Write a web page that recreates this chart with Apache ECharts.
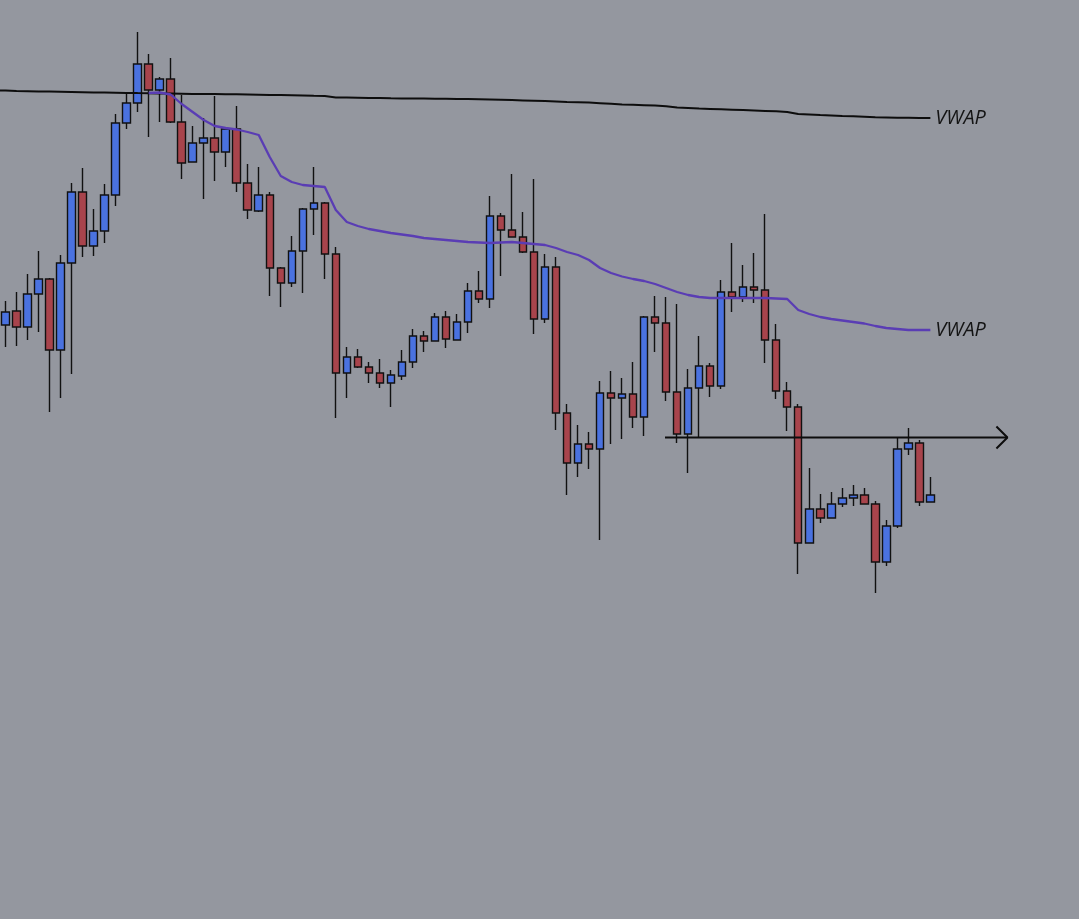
<!DOCTYPE html>
<html>
<head>
<meta charset="utf-8">
<title>VWAP</title>
<script src="https://cdn.jsdelivr.net/npm/echarts@6/dist/echarts.min.js"></script>
<style>
	html, body { margin: 0; padding: 0; background: #94979f; }
	#chart { width: 1079px; height: 919px; }
</style>
</head>
<body>
<div id="chart"></div>
<script>
	// candles (price scale: 1000 at top edge, 81 at bottom)
	var candleOpen = [675, 689, 673, 706, 721, 650, 737, 808, 754, 769,
		805, 877, 897, 936, 910, 921, 878, 838, 857, 862,
		848, 871, 817, 789, 805, 732, 717, 749, 791, 797,
		746, 627, 643, 633, 627, 617, 624, 638, 664, 659,
		683, 660, 678, 709, 701, 784, 770, 763, 748, 681,
		733, 587, 537, 556, 551, 607, 602, 606, 583, 683,
		677, 608, 566, 612, 634, 614, 708, 703, 713, 710,
		660, 609, 593, 457, 491, 482, 496, 502, 505, 496,
		438, 474, 551, 557, 498];
	var candleClose = [688, 673, 706, 721, 650, 737, 808, 754, 769, 805,
		877, 897, 936, 910, 921, 878, 837, 857, 862, 848,
		871, 817, 790, 805, 732, 717, 749, 791, 797, 746,
		627, 643, 633, 627, 617, 625, 638, 664, 659, 683,
		661, 678, 709, 701, 784, 770, 763, 748, 681, 733,
		587, 537, 556, 551, 607, 602, 606, 583, 683, 677,
		608, 566, 612, 634, 614, 708, 703, 713, 710, 660,
		609, 593, 457, 491, 482, 496, 502, 505, 496, 438,
		474, 551, 557, 498, 505];
	var candleLow = [653, 654, 660, 668, 588, 602, 626, 743, 744, 757,
		794, 871, 888, 863, 878, 877, 821, 838, 801, 819,
		833, 808, 781, 788, 704, 693, 713, 707, 765, 721,
		582, 602, 632, 617, 612, 593, 620, 632, 648, 659,
		652, 660, 667, 697, 692, 724, 763, 747, 666, 677,
		570, 505, 523, 531, 460, 556, 561, 572, 564, 648,
		599, 557, 527, 563, 603, 611, 688, 698, 697, 637,
		601, 569, 426, 457, 477, 482, 493, 494, 496, 407,
		434, 472, 545, 494, 498];
	var candleHigh = [699, 708, 726, 749, 722, 745, 817, 832, 791, 816,
		886, 906, 968, 946, 923, 942, 905, 874, 882, 904,
		872, 894, 836, 833, 808, 733, 764, 792, 833, 798,
		753, 653, 651, 638, 641, 630, 650, 671, 669, 687,
		689, 686, 717, 729, 804, 787, 826, 788, 821, 746,
		743, 596, 575, 568, 619, 629, 622, 638, 684, 704,
		703, 696, 631, 664, 637, 720, 757, 735, 747, 786,
		676, 618, 596, 532, 506, 508, 512, 515, 512, 499,
		480, 563, 572, 560, 523];

	// the two VWAP lines, one value per candle (black one starts a candle before the first, off the left edge)
	var vwapBlackStart = -1;
	var vwapBlack = [909.8, 909.4, 909, 908.8, 908.6, 908.4, 908.2, 908, 907.8, 907.6, 907.5,
		907.3, 907.1, 906.9, 906.8, 906.6, 906.5, 906.3, 906.1, 906, 905.9,
		905.8, 905.7, 905.5, 905.3, 905.1, 904.9, 904.7, 904.5, 904.2, 904,
		902.6, 902.4, 902.2, 902, 901.9, 901.7, 901.6, 901.5, 901.4, 901.3,
		901.2, 901.1, 901, 900.8, 900.5, 900.2, 899.9, 899.6, 899.3, 898.9,
		898.5, 898.1, 897.8, 897.4, 896.8, 896.2, 895.6, 895.2, 894.8, 894.4,
		893.7, 892.4, 892, 891.5, 891.1, 890.7, 890.3, 889.9, 889.5, 889.1,
		888.7, 888.1, 886, 885.5, 885, 884.6, 884.1, 883.7, 883.2, 882.7,
		882.5, 882.3, 882.2, 882, 882];
	var vwapPurple = [null, null, null, null, null, null, null, null, null, null,
		null, null, null, 907, 907.5, 905.5, 896, 888, 880, 874,
		872, 870.5, 868, 865, 843, 824, 818, 815, 814, 813,
		790, 778, 774, 771, 769, 767, 765.5, 764, 762, 761,
		760, 759, 758, 757.5, 757, 757.5, 758, 757, 756, 755,
		752, 748, 745, 740, 732, 727, 723.5, 721, 719, 716,
		712, 708, 705, 703, 702, 702, 702, 702, 702, 702,
		701.5, 701, 690, 686, 683, 681, 679.5, 678, 676.5, 674,
		672, 671, 670, 670, 670];

	// horizontal level with the arrow
	var levelPrice = 562.5;
	var levelFrom = 59.9;
	var levelTo = 91;

	var slots = 98;
	var cats = [];
	for (var i = 0; i < slots; i++) {
		cats.push(i);
	}

	var candles = [];
	for (var i = 0; i < candleOpen.length; i++) {
		candles.push([candleOpen[i], candleClose[i], candleLow[i], candleHigh[i]]);
	}

	var blackPts = [];
	for (var i = 0; i < vwapBlack.length; i++) {
		blackPts.push([vwapBlackStart + i, vwapBlack[i]]);
	}

	var labelStyle = {
		show: true,
		formatter: 'VWAP',
		fontFamily: 'Open Sans',
		fontStyle: 'italic',
		fontSize: 20,
		color: '#141414',
		distance: 5
	};

	var option = {
		animation: false,
		backgroundColor: '#94979f',
		grid: {
			left: -1.5,
			top: 0,
			width: 1084,
			height: 919
		},
		xAxis: [{
			type: 'category',
			data: cats,
			show: false
		}, {
			type: 'value',
			min: -0.5,
			max: slots - 0.5,
			show: false
		}],
		yAxis: {
			type: 'value',
			min: 81,
			max: 1000,
			show: false
		},
		series: [{
			type: 'candlestick',
			data: candles,
			barWidth: 8,
			itemStyle: {
				color: '#4a72e0',
				color0: '#a8444c',
				borderColor: '#111',
				borderColor0: '#111',
				borderWidth: 1.4
			}
		}, {
			type: 'line',
			xAxisIndex: 1,
			data: blackPts,
			symbol: 'none',
			lineStyle: { color: '#0d0d0d', width: 2 },
			endLabel: labelStyle,
			z: 3
		}, {
			type: 'line',
			data: vwapPurple,
			symbol: 'none',
			lineStyle: { color: '#5a3db4', width: 2.3 },
			endLabel: labelStyle,
			z: 3
		}, {
			type: 'line',
			xAxisIndex: 1,
			data: [[levelFrom, levelPrice], [levelTo, levelPrice]],
			symbol: 'none',
			lineStyle: { color: '#0d0d0d', width: 2 },
			z: 4
		}, {
			//箭头
			type: 'line',
			xAxisIndex: 1,
			data: [[levelTo - 1, levelPrice + 11], [levelTo, levelPrice], [levelTo - 1, levelPrice - 11]],
			symbol: 'none',
			lineStyle: { color: '#0d0d0d', width: 2 },
			z: 4
		}]
	};

	var chart = echarts.init(document.getElementById('chart'));
	chart.setOption(option);
</script>
</body>
</html>
